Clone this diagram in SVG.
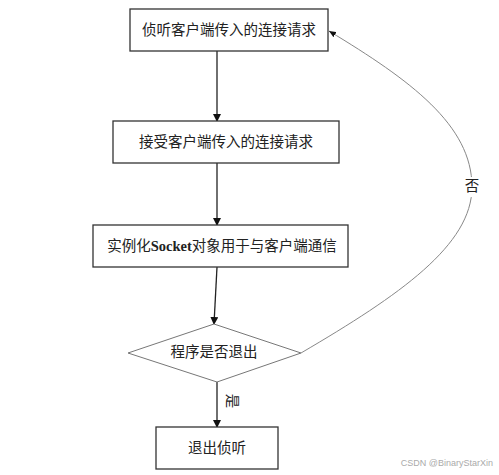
<svg xmlns="http://www.w3.org/2000/svg" width="499" height="475" viewBox="0 0 499 475">
<defs>
<marker id="ah" markerWidth="8" markerHeight="8" refX="7" refY="4" orient="auto" markerUnits="userSpaceOnUse">
<path d="M0,0 L8,4 L0,8 Z" fill="#111"/>
</marker>
<marker id="ahs" markerWidth="7" markerHeight="6" refX="7" refY="3" orient="auto" markerUnits="userSpaceOnUse">
<path d="M0,0 L7,3 L0,6 Z" fill="#111"/>
</marker>
<style>
.box{fill:#fff;stroke:#333;stroke-width:1.3}
.dia{fill:#fff;stroke:#777;stroke-width:1}
.t{font-family:"Liberation Serif","Noto Sans CJK SC",serif;font-size:14.5px;fill:#222;text-anchor:middle;dominant-baseline:central}
.c{fill:none;stroke:#222;stroke-width:1.3}
</style>
</defs>
<rect width="499" height="475" fill="#fff"/>
<g id="connectors">
<line class="c" x1="217" y1="51" x2="217" y2="121" marker-end="url(#ah)"/>
<line class="c" x1="217" y1="163" x2="217" y2="225" marker-end="url(#ah)"/>
<line class="c" x1="217" y1="267" x2="214" y2="324" marker-end="url(#ah)"/>
<line class="c" x1="217" y1="382" x2="217" y2="427" marker-end="url(#ah)"/>
<path d="M301,353 C400,295 472,245 472,187 C472,125 410,80 329,31" fill="none" stroke="#888" stroke-width="1" marker-end="url(#ahs)"/>
<rect x="463" y="177" width="18" height="20" fill="#fff"/>
<text class="t" x="472" y="186">否</text>
<text class="t" x="232" y="401" font-size="13" transform="rotate(90 232 401)">是</text>
</g>
<g id="n1"><rect class="box" x="130" y="9" width="198" height="42"/><text class="t" x="229" y="30">侦听客户端传入的连接请求</text></g>
<g id="n2"><rect class="box" x="113" y="121" width="226" height="42"/><text class="t" x="226" y="142">接受客户端传入的连接请求</text></g>
<g id="n3"><rect class="box" x="93" y="225" width="255" height="42"/><text class="t" x="222" y="246">实例化<tspan font-weight="bold">Socket</tspan>对象用于与客户端通信</text></g>
<g id="n4"><polygon class="dia" points="214,324 301,353 217,382 128,353"/><text class="t" x="214" y="352">程序是否退出</text></g>
<g id="n5"><rect class="box" x="156" y="427" width="122" height="42"/><text class="t" x="217" y="448">退出侦听</text></g>
<text x="493" y="466" font-family="Liberation Sans,Arial,sans-serif" font-size="9" fill="#aaa" text-anchor="end">CSDN @BinaryStarXin</text>
</svg>
